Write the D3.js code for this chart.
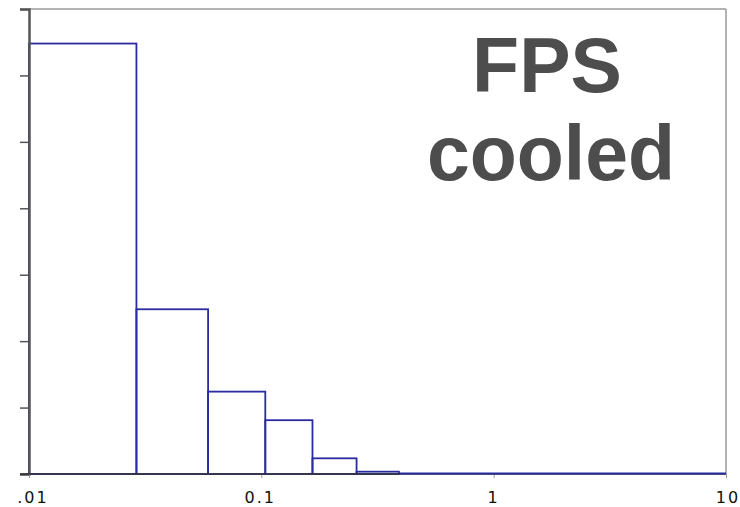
<!DOCTYPE html>
<html lang="en">
<head>
    <meta charset="UTF-8">
    <title>FPS cooled</title>
    <script src="https://d3js.org/d3.v7.min.js"></script>
    <style>
        body { margin: 0; background: #fff; }
        svg { display: block; }
        .tick-label { font-family: "DejaVu Sans", sans-serif; font-size: 16px; letter-spacing: 2px; fill: #111; }
        .title { font-family: "Liberation Sans", Arial, sans-serif; font-weight: bold; font-size: 77px; fill: #4d4d4d; }
    </style>
</head>
<body>
    <svg id="chart"></svg>
    <script>
        // bin edges (log scale) and heights
        const binEdges = [0.01, 0.029, 0.059, 0.104, 0.166, 0.257, 0.391, 10];
        const binValues = [6.48, 2.48, 1.24, 0.81, 0.236, 0.035, 0];
        const xTicks = [0.01, 0.1, 1, 10];
        const xTickLabels = [".01", "0.1", "1", "10"];
        const yTicks = [0, 1, 2, 3, 4, 5, 6, 7];
        const titleLines = ["FPS", "cooled"];

        const margin = { top: 9, right: 14, bottom: 33, left: 29 };
        const W = 740, H = 507;
        const width = W - margin.left - margin.right;
        const height = H - margin.top - margin.bottom;

        const svg = d3.select("#chart").attr("width", W).attr("height", H);
        const g = svg.append("g").attr("transform", `translate(${margin.left},${margin.top})`);

        const x = d3.scaleLog().domain([0.01, 10]).range([0, width]);
        const y = d3.scaleLinear().domain([0, 7]).range([height, 0]);

        // frame (top and right)
        g.append("line").attr("x1", 0).attr("x2", width).attr("y1", 0).attr("y2", 0)
            .attr("stroke", "#9a9a9a").attr("stroke-width", 1.5);
        g.append("line").attr("x1", width).attr("x2", width).attr("y1", 0).attr("y2", height)
            .attr("stroke", "#9a9a9a").attr("stroke-width", 1.5);

        // histogram bars
        const bins = binValues.map((v, i) => ({ x0: binEdges[i], x1: binEdges[i + 1], v }));
        g.selectAll(".bar")
            .data(bins)
            .enter()
            .append("rect")
            .attr("class", "bar")
            .attr("x", d => x(d.x0))
            .attr("y", d => y(d.v))
            .attr("width", d => x(d.x1) - x(d.x0))
            .attr("height", d => height - y(d.v))
            .attr("fill", "none")
            .attr("stroke", "#2b2ba0")
            .attr("stroke-width", 1.8);

        // y axis, no labels
        g.append("g")
            .call(d3.axisLeft(y).tickValues(yTicks).tickSize(9).tickFormat(""))
            .call(a => a.select(".domain").attr("stroke", "#555").attr("stroke-width", 2.5))
            .call(a => a.selectAll(".tick line").attr("stroke", "#555").attr("stroke-width", 1.5));

        // x axis
        g.append("g")
            .attr("transform", `translate(0,${height})`)
            .call(d3.axisBottom(x).tickValues(xTicks).tickSize(4).tickFormat(""))
            .call(a => a.select(".domain").remove())
            .call(a => a.selectAll(".tick line").attr("stroke", "#999"));
        g.append("line").attr("x1", -9).attr("x2", width).attr("y1", height).attr("y2", height)
            .attr("stroke", "#333").attr("stroke-width", 1.5);
        // baseline part of the outline lies over the axis
        g.append("line").attr("x1", x(binEdges[binEdges.length - 2])).attr("x2", width)
            .attr("y1", height - 0.5).attr("y2", height - 0.5)
            .attr("stroke", "#2b2ba0").attr("stroke-width", 1.8);

        g.selectAll(".tick-label")
            .data(xTicks)
            .enter()
            .append("text")
            .attr("class", "tick-label")
            .attr("x", (d, i) => x(d) + [4, -1, 0, 2][i])
            .attr("y", height + 29)
            .attr("text-anchor", "middle")
            .text((d, i) => xTickLabels[i]);

        // title text
        g.selectAll(".title")
            .data(titleLines)
            .enter()
            .append("text")
            .attr("class", "title")
            .attr("x", (d, i) => [518, 522][i])
            .attr("y", (d, i) => [83, 171][i])
            .attr("text-anchor", "middle")
            .text(d => d);
    </script>
</body>
</html>
